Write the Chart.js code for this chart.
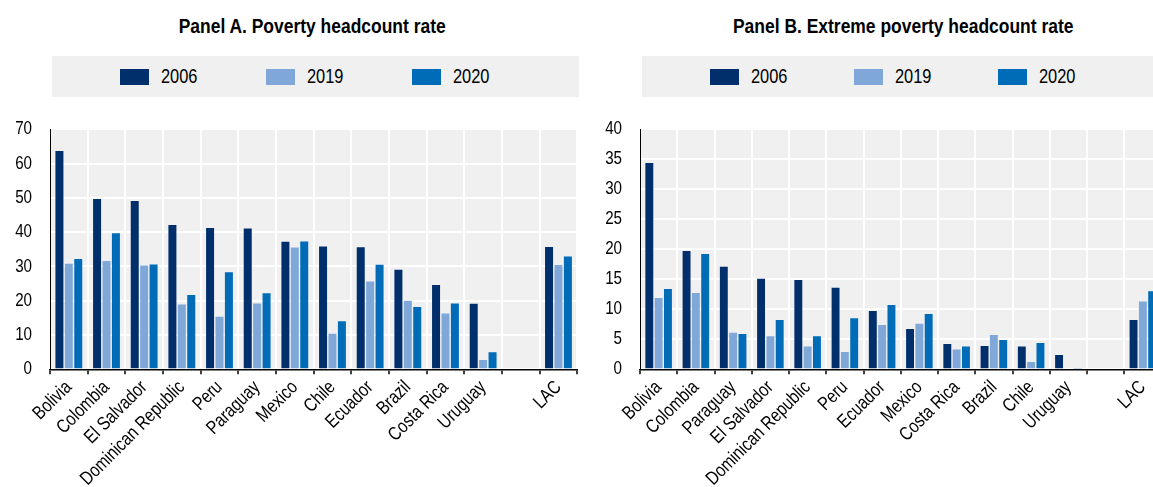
<!DOCTYPE html>
<html>
<head>
<meta charset="utf-8">
<script src="https://cdn.jsdelivr.net/npm/chart.js@4.4.1/dist/chart.umd.min.js"></script>
<style>
  html, body { margin: 0; padding: 0; background: #fff; }
  body { width: 1153px; height: 487px; overflow: hidden; position: relative;
         font-family: "Liberation Sans", Arial, sans-serif; color: #000; }
  .title { position: absolute; top: 15px; font-weight: bold; font-size: 19.5px; white-space: nowrap; text-align: center; }
  .narrow { display: inline-block; transform: scaleX(0.82); }
  .title .narrow { transform: scaleX(0.895); transform-origin: center center; }
  .legend { position: absolute; top: 56px; height: 41px; background: #f0f0f0; }
  .item { position: absolute; top: 0; height: 41px; display: flex; align-items: center; font-size: 20px; white-space: nowrap; }
  .item .narrow { transform-origin: left center; }
  .sw { width: 29px; height: 16px; margin-right: 12px; }
  canvas { position: absolute; top: 110px; }
</style>
</head>
<body>
<div class="title" style="left:49px;width:527px;"><span class="narrow">Panel A. Poverty headcount rate</span></div>
<div class="legend" id="legendA" style="left:52px;width:527px;"></div>
<div class="title" style="left:641px;width:525px;"><span class="narrow">Panel B. Extreme poverty headcount rate</span></div>
<div class="legend" id="legendB" style="left:642px;width:530px;"></div>
<canvas id="chartA" width="592" height="377" style="left:0px;"></canvas>
<canvas id="chartB" width="590" height="377" style="left:590px;"></canvas>
<script>
// Series labels and colours
const years = ["2006", "2019", "2020"];
const yearColors = ["#002f6c", "#7fa8d9", "#006bb6"];

// Panel A: poverty headcount rate (%)
const countriesA = ["Bolivia", "Colombia", "El Salvador", "Dominican Republic", "Peru", "Paraguay",
                    "Mexico", "Chile", "Ecuador", "Brazil", "Costa Rica", "Uruguay", "", "LAC"];
const povA2006 = [63.7, 49.7, 49.1, 42.1, 41.2, 41.1, 37.2, 35.8, 35.6, 29.0, 24.6, 19.1, null, 35.7];
const povA2019 = [30.8, 31.6, 30.3, 18.9, 15.3, 19.2, 35.5, 10.4, 25.6, 20.0, 16.3, 2.7, null, 30.4];
const povA2020 = [32.2, 39.7, 30.6, 21.7, 28.3, 22.2, 37.3, 14.0, 30.5, 18.2, 19.2, 5.0, null, 32.9];
const ticksA = { max: 70, step: 10 };

// Panel B: extreme poverty headcount rate (%)
const countriesB = ["Bolivia", "Colombia", "Paraguay", "El Salvador", "Dominican Republic", "Peru",
                    "Ecuador", "Mexico", "Costa Rica", "Brazil", "Chile", "Uruguay", "", "LAC"];
const povB2006 = [34.4, 19.7, 17.1, 15.1, 14.9, 13.6, 9.7, 6.7, 4.2, 3.9, 3.8, 2.4, null, 8.2];
const povB2019 = [11.9, 12.7, 6.1, 5.5, 3.8, 2.9, 7.4, 7.6, 3.3, 5.7, 1.2, 0.0, null, 11.3];
const povB2020 = [13.4, 19.2, 5.9, 8.2, 5.5, 8.5, 10.7, 9.2, 3.8, 4.9, 4.4, 0.2, null, 13.0];
const ticksB = { max: 40, step: 5 };

const FONT = "'Liberation Sans', Arial, sans-serif";
const NARROW = 0.82;   // horizontal squeeze for a narrow face

function buildLegend(id, lefts) {
  const box = document.getElementById(id);
  years.forEach((y, i) => {
    const it = document.createElement('div');
    it.className = 'item';
    it.style.left = lefts[i] + 'px';
    const sw = document.createElement('span');
    sw.className = 'sw';
    sw.style.background = yearColors[i];
    const tx = document.createElement('span');
    tx.className = 'narrow';
    tx.textContent = y;
    it.appendChild(sw);
    it.appendChild(tx);
    box.appendChild(it);
  });
}
buildLegend('legendA', [68, 214, 360]);
buildLegend('legendB', [68, 212, 356]);

// Grey plot background under the grid, and condensed axis text
const plotBg = {
  id: 'plotBg',
  beforeInit(chart) {
    const ctx = chart.ctx;
    const fill = ctx.fillText;
    ctx.fillText = function (t, x, y, maxW) {
      this.save();
      this.translate(x, y);
      this.scale(NARROW, 1);
      fill.call(this, t, 0, 0);
      this.restore();
    };
  },
  beforeDraw(chart) {
    const { ctx, chartArea: a } = chart;
    ctx.save();
    ctx.fillStyle = '#f0f0f0';
    ctx.fillRect(a.left, a.top, a.right - a.left, a.bottom - a.top);
    ctx.restore();
  }
};

function makeChart(id, labels, s06, s19, s20, tk, padRight) {
  const series = [s06, s19, s20];
  return new Chart(document.getElementById(id), {
    type: 'bar',
    data: {
      labels: labels,
      datasets: series.map((d, i) => ({
        label: years[i],
        data: d,
        backgroundColor: yearColors[i],
        borderWidth: 0,
        categoryPercentage: 0.75,
        barPercentage: 0.85
      }))
    },
    options: {
      responsive: false,
      animation: false,
      devicePixelRatio: 1,
      layout: { padding: { top: 19.3, right: padRight, bottom: 0, left: 0 } },
      plugins: { legend: { display: false }, tooltip: { enabled: false }, title: { display: false } },
      scales: {
        x: {
          offset: true,
          grid: { offset: true, color: '#ffffff', lineWidth: 2, drawTicks: true, tickLength: 5, tickColor: '#000', tickWidth: 1.5 },
          border: { display: true, color: '#000', width: 1.5 },
          ticks: { autoSkip: false, minRotation: 45, maxRotation: 45, padding: 2,
                   color: '#000', font: { family: FONT, size: 19 } },
          afterFit(s) { s.height = 117.7; s.paddingLeft = 0; s.paddingRight = 0; }
        },
        y: {
          min: 0, max: tk.max,
          grid: { color: '#ffffff', lineWidth: 2, drawTicks: false },
          border: { display: true, color: '#000', width: 1 },
          ticks: { stepSize: tk.step, padding: 18, color: '#000', font: { family: FONT, size: 18.5 } },
          afterFit(s) { s.width = 50; s.paddingTop = 0; s.paddingBottom = 0; }
        }
      }
    },
    plugins: [plotBg]
  });
}

makeChart('chartA', countriesA, povA2006, povA2019, povA2020, ticksA, 14.7);
makeChart('chartB', countriesB, povB2006, povB2019, povB2020, ticksB, 18.5);
</script>
</body>
</html>
